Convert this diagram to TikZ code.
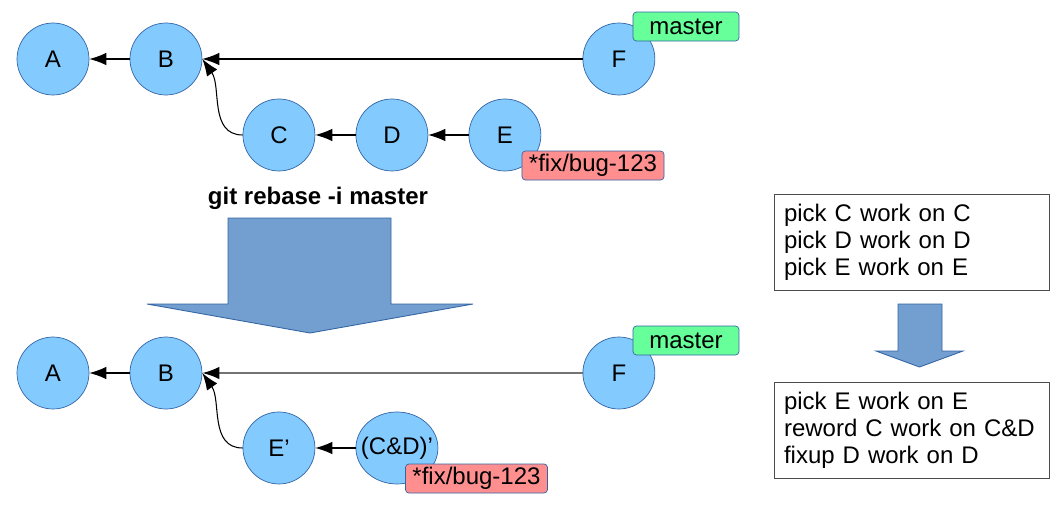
\documentclass[tikz,border=0pt]{standalone}
\usepackage{fontspec}
\setmainfont{Liberation Sans}
\usetikzlibrary{shapes, arrows.meta}
\definecolor{commitblue}{HTML}{83CAFF}
\definecolor{edgeblue}{HTML}{3465A4}
\definecolor{arrowblue}{HTML}{729FCF}
\definecolor{mastergreen}{HTML}{66FF99}
\definecolor{branchred}{HTML}{FF8F8F}
\tikzstyle{commit} = [circle, minimum size=1.44cm, inner sep=0pt, draw=edgeblue, fill=commitblue, text centered]
\tikzstyle{squashed} = [ellipse, minimum width=1.64cm, minimum height=1.44cm, inner xsep=-0.14cm, inner ysep=0pt, draw=edgeblue, fill=commitblue]
\tikzstyle{branch} = [rectangle, rounded corners=2pt, minimum height=0.58cm, inner xsep=0.14cm, inner ysep=0pt, draw=edgeblue]
\tikzstyle{todo} = [rectangle, draw=black!70, text width=5.1cm, inner xsep=0.2cm, minimum height=1.92cm, align=left]
\tikzstyle{rebasearrow} = [draw=edgeblue, fill=arrowblue, line width=0.5pt]
\tikzstyle{line} = [draw, line width=0.6pt, -{Latex[length=0.34cm, width=0.25cm, color=black]}]

\begin{document}
\begin{tikzpicture}[x=0.02cm, y=-0.02cm, node distance=2.26cm, font=\fontsize{13.66pt}{15.4pt}\selectfont]
            \useasboundingbox (0,0) rectangle (1063,511);
            % Draw nodes
            % Before rebase
            \node (a1) [commit] at (53,59) {A};
            \node (b1) [commit, right of=a1] {B};
            \node (c1) [commit, right of=b1, yshift=-1.52cm] {C};
            \node (d1) [commit, right of=c1] {D};
            \node (e1) [commit, right of=d1] {E};
            \node (f1) [commit, right of=b1, xshift=6.8cm] {F};
            \node (mst1) [branch, fill=mastergreen, minimum width=2.12cm] at (686,26.5) {master};
            \node (fix1) [branch, fill=branchred] at (593,165.5) {*fix/bug-123};
            
            % Rebase step
            \node (title) [font=\fontsize{13.66pt}{15.4pt}\selectfont\bfseries] at (318,198) {git rebase -i master};
            \filldraw [rebasearrow] (228,218) -- (391,218) -- (391,304) -- (473,304) -- (310,333) -- (147,304) -- (228,304) -- cycle;
            
            % After rebase
            \node (a2) [commit] at (53,373) {A};
            \node (b2) [commit, right of=a2] {B};
            \node (e2) [commit, right of=b2, yshift=-1.5cm] {E’};
            \node (cd2) [squashed, right of=e2, xshift=0.1cm] {(C\&D)’};
            \node (f2) [commit, right of=b2, xshift=6.8cm] {F};
            \node (mst2) [branch, fill=mastergreen, minimum width=2.12cm] at (686,340.5) {master};
            \node (fix2) [branch, fill=branchred] at (476.5,478.5) {*fix/bug-123};
            
            % Todo list
            \node (todo1) [todo] at (911.5,242) {pick C work on C\\pick D work on D\\pick E work on E};
            \node (todo2) [todo, below of=todo1, yshift=-1.5cm] {pick E work on E\\reword C work on C\&D\\fixup D work on D};
            \filldraw [rebasearrow] (898,304) -- (942,304) -- (942,351) -- (963,351) -- (919.5,367) -- (876,351) -- (898,351) -- cycle;
            
            % Draw lines
            % Before
            \path [line] (b1) -- (a1);
            \path [line] (f1) -- (b1);
            \path [line] (d1) -- (c1);
            \path [line] (e1) -- (d1);
            \path [line] (c1.west) to[out=180, in=-55] (b1.east);
            
            % After
            \path [line] (b2) -- (a2);
            \path [line, draw=black!55, line width=1pt] (f2) -- (b2);
            \path [line] (cd2) -- (e2);
            \path [line] (e2.west) to[out=180, in=-55] (b2.east);
        \end{tikzpicture}
\end{document}
